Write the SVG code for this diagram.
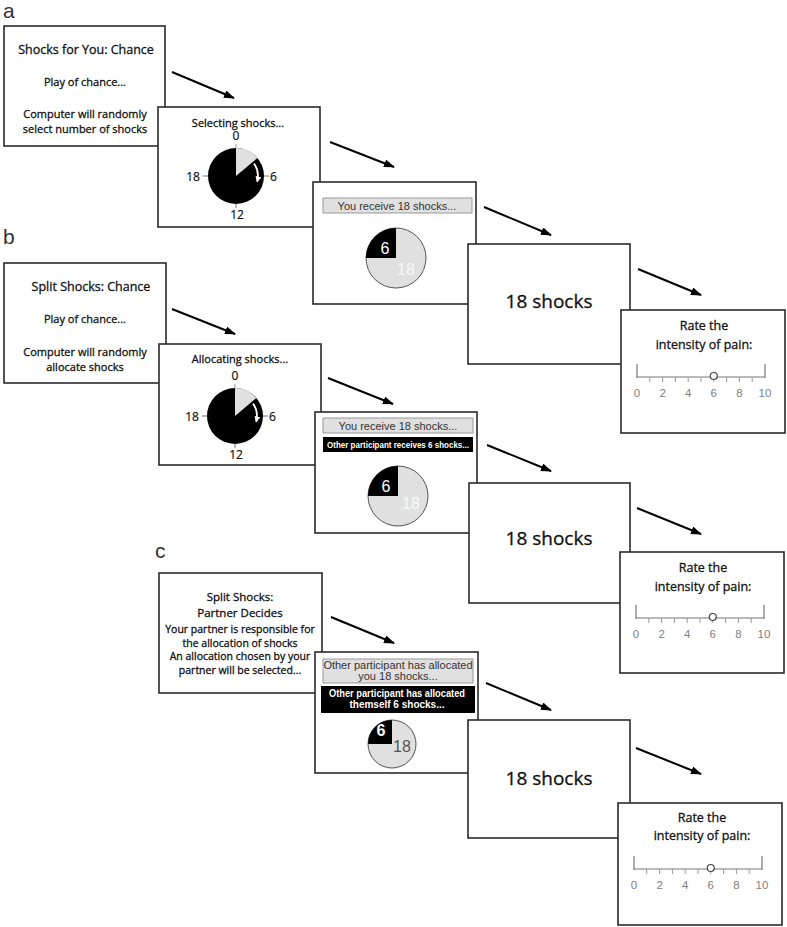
<svg xmlns="http://www.w3.org/2000/svg" width="787" height="927" viewBox="0 0 787 927">
<defs>
<style>
.box{fill:#fff;stroke:#2a2a2a;stroke-width:1.6}
.t{font-family:"Open Sans","Noto Sans","Liberation Sans",sans-serif;fill:#111;stroke:#111;stroke-width:0.3;text-anchor:middle}
.h{font-size:12.5px}
.b{font-size:11px}
.big{font-size:19px}
.lab{font-family:"Liberation Sans",Arial,sans-serif;font-size:21px;fill:#333}
.num{font-family:"Open Sans","Liberation Sans",Arial,sans-serif;font-size:12px;fill:#111;stroke:#111;stroke-width:0.2;text-anchor:middle}
.sc{font-family:"Liberation Sans",Arial,sans-serif;font-size:11.5px;fill:#808080;text-anchor:middle}
.ban{fill:#e0e0e0;stroke:#9a9a9a;stroke-width:1}
.bant{font-family:"Liberation Sans",Arial,sans-serif;font-size:11px;fill:#333;text-anchor:middle}
.blk{fill:#000}
.blkt{font-family:"Liberation Sans",Arial,sans-serif;font-weight:bold;fill:#fff;text-anchor:middle}
.pie{fill:#e0e0e0;stroke:#555;stroke-width:1}
.pt{font-family:"Liberation Sans",Arial,sans-serif;font-size:16px;text-anchor:middle}
.arr{stroke:#000;stroke-width:2;fill:none;marker-end:url(#ah)}
.tk{stroke:#999;stroke-width:1}
.ln{stroke:#777;stroke-width:1.2}
.wa{stroke:#fff;stroke-width:1.8;fill:none;marker-end:url(#wh)}
</style>
<marker id="ah" markerUnits="userSpaceOnUse" markerWidth="12" markerHeight="10" refX="10" refY="4" orient="auto">
<path d="M0,0 L11,4 L0,8 Z" fill="#000"/>
</marker>
<marker id="wh" markerUnits="userSpaceOnUse" markerWidth="8" markerHeight="8" refX="5" refY="3" orient="auto">
<path d="M0,0 L6,3 L0,6 Z" fill="#fff"/>
</marker>
<g id="scale">
<line class="ln" x1="0" y1="0" x2="128" y2="0"/>
<line class="ln" x1="0" y1="-13" x2="0" y2="1"/>
<line class="ln" x1="128" y1="-13" x2="128" y2="1"/>
<path class="tk" d="M12.8,0v5M25.6,0v5M38.4,0v5M51.2,0v5M64,0v5M76.8,0v5M89.6,0v5M102.4,0v5M115.2,0v5"/>
<circle cx="76.8" cy="-1" r="3.5" fill="#fff" stroke="#444" stroke-width="1.2"/>
<text class="sc" x="0" y="20">0</text>
<text class="sc" x="25.6" y="20">2</text>
<text class="sc" x="51.2" y="20">4</text>
<text class="sc" x="76.8" y="20">6</text>
<text class="sc" x="102.4" y="20">8</text>
<text class="sc" x="128" y="20">10</text>
</g>
<g id="clock">
<circle cx="0" cy="0" r="28" fill="#000"/>
<path d="M0,0 L0,-28 A28,28 0 0,1 21.4,-18 Z" fill="#e0e0e0"/>
<line class="tk" x1="0" y1="-28" x2="0" y2="-32"/>
<line x1="-33" y1="0" x2="-28" y2="0" stroke="#777" stroke-width="1"/>
<line x1="28" y1="0" x2="33" y2="0" stroke="#777" stroke-width="1"/>
<line x1="0" y1="28" x2="0" y2="32" stroke="#777" stroke-width="1"/>
<path class="wa" d="M18,-12.6 A22,22 0 0,1 21.2,5.5"/>
<text class="num" x="0" y="-36">0</text>
<text class="num" x="37.5" y="5">6</text>
<text class="num" x="-43" y="5">18</text>
<text class="num" x="1" y="43">12</text>
</g>
</defs>

<text class="lab" x="3" y="18">a</text>
<text class="lab" x="3" y="244">b</text>
<text class="lab" x="155" y="558">c</text>

<g id="a1">
<rect class="box" x="4" y="26" width="161" height="120"/>
<text class="t h" x="86" y="54">Shocks for You: Chance</text>
<text class="t b" x="85" y="86">Play of chance...</text>
<text class="t b" x="85" y="118">Computer will randomly</text>
<text class="t b" x="85" y="133">select number of shocks</text>
</g>
<g id="a2">
<rect class="box" x="158" y="107" width="162" height="120"/>
<text class="t b" x="238" y="127">Selecting shocks...</text>
<use href="#clock" x="236" y="176"/>
</g>
<g id="a3">
<rect class="box" x="313" y="182" width="163" height="122"/>
<rect class="ban" x="323" y="198" width="149" height="15"/>
<text class="bant" x="397" y="209.5">You receive 18 shocks...</text>
<circle class="pie" cx="396" cy="258" r="30"/>
<path d="M396,258 L366,258 A30,30 0 0,1 396,228 Z" fill="#000"/>
<text class="pt" x="385" y="254" fill="#fff">6</text>
<text class="pt" x="406" y="275" fill="#f8f8f8">18</text>
</g>
<g id="a4">
<rect class="box" x="468" y="244" width="162" height="120"/>
<text class="t big" x="549" y="308">18 shocks</text>
</g>
<g id="a5">
<rect class="box" x="621" y="310" width="164" height="123"/>
<text class="t h" x="704" y="330">Rate the</text>
<text class="t h" x="704" y="349">intensity of pain:</text>
<use href="#scale" x="637" y="377"/>
</g>

<g id="b1">
<rect class="box" x="4" y="263" width="162" height="120"/>
<text class="t h" x="91" y="291">Split Shocks: Chance</text>
<text class="t b" x="85" y="323">Play of chance...</text>
<text class="t b" x="85" y="356">Computer will randomly</text>
<text class="t b" x="85" y="371">allocate shocks</text>
</g>
<g id="b2">
<rect class="box" x="159" y="344" width="162" height="121"/>
<text class="t b" x="240" y="363">Allocating shocks...</text>
<use href="#clock" x="235" y="416"/>
</g>
<g id="b3">
<rect class="box" x="315" y="412" width="162" height="121"/>
<rect class="ban" x="323" y="418" width="150" height="15"/>
<text class="bant" x="398" y="429.5">You receive 18 shocks...</text>
<rect class="blk" x="323" y="437" width="150" height="15"/>
<text class="blkt" x="398" y="448" font-size="9.5" textLength="142" lengthAdjust="spacingAndGlyphs">Other participant receives 6 shocks...</text>
<circle class="pie" cx="398" cy="496" r="30"/>
<path d="M398,496 L368,496 A30,30 0 0,1 398,466 Z" fill="#000"/>
<text class="pt" x="386" y="492" fill="#fff">6</text>
<text class="pt" x="411" y="509" fill="#f8f8f8">18</text>
</g>
<g id="b4">
<rect class="box" x="469" y="483" width="161" height="120"/>
<text class="t big" x="549" y="545">18 shocks</text>
</g>
<g id="b5">
<rect class="box" x="620" y="552" width="164" height="121"/>
<text class="t h" x="703" y="572">Rate the</text>
<text class="t h" x="703" y="591">intensity of pain:</text>
<use href="#scale" x="636" y="618"/>
</g>

<g id="c1">
<rect class="box" x="159" y="573" width="163" height="120"/>
<text class="t" x="240" y="600.5" font-size="11.5">Split Shocks:</text>
<text class="t" x="240" y="616.5" font-size="11.5">Partner Decides</text>
<text class="t" x="240" y="633" font-size="10.5">Your partner is responsible for</text>
<text class="t" x="240" y="646.5" font-size="10.5">the allocation of shocks</text>
<text class="t" x="240" y="660" font-size="10.5">An allocation chosen by your</text>
<text class="t" x="240" y="673.5" font-size="10.5">partner will be selected...</text>
</g>
<g id="c2">
<rect class="box" x="315" y="652" width="163" height="121"/>
<rect class="ban" x="323" y="659" width="150" height="24"/>
<text class="bant" x="398" y="669" font-size="10.5">Other participant has allocated</text>
<text class="bant" x="398" y="680" font-size="10.5">you 18 shocks...</text>
<rect class="blk" x="321" y="686" width="154" height="27"/>
<text class="blkt" x="397" y="697" font-size="10" textLength="136" lengthAdjust="spacingAndGlyphs">Other participant has allocated</text>
<text class="blkt" x="397" y="708" font-size="10">themself 6 shocks...</text>
<circle class="pie" cx="392" cy="744" r="24"/>
<path d="M392,744 L368,744 A24,24 0 0,1 392,720 Z" fill="#000"/>
<text class="pt" x="381" y="736" fill="#fff" font-size="13" font-weight="bold">6</text>
<text class="pt" x="402" y="752" fill="#555" font-size="13">18</text>
</g>
<g id="c3">
<rect class="box" x="468" y="720" width="162" height="118"/>
<text class="t big" x="549" y="785">18 shocks</text>
</g>
<g id="c4">
<rect class="box" x="618" y="803" width="164" height="122"/>
<text class="t h" x="702" y="822">Rate the</text>
<text class="t h" x="702" y="840">intensity of pain:</text>
<use href="#scale" x="634" y="869"/>
</g>

<g id="connectors">
<line class="arr" x1="172" y1="72" x2="234" y2="98"/>
<line class="arr" x1="330" y1="142" x2="394" y2="167"/>
<line class="arr" x1="484" y1="207" x2="551" y2="235"/>
<line class="arr" x1="638" y1="269" x2="701" y2="295"/>
<line class="arr" x1="172" y1="309" x2="235" y2="334"/>
<line class="arr" x1="328" y1="378" x2="393" y2="404"/>
<line class="arr" x1="487" y1="445" x2="551" y2="471"/>
<line class="arr" x1="637" y1="508" x2="701" y2="534"/>
<line class="arr" x1="331" y1="617" x2="394" y2="643"/>
<line class="arr" x1="486" y1="683" x2="551" y2="710"/>
<line class="arr" x1="636" y1="748" x2="701" y2="774"/>
</g>
</svg>
